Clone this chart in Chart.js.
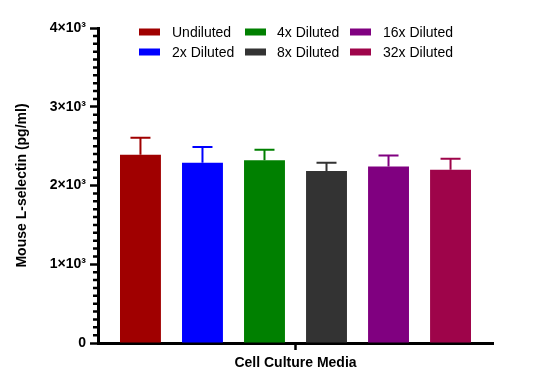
<!DOCTYPE html>
<html>
<head>
<meta charset="utf-8">
<script src="https://cdn.jsdelivr.net/npm/chart.js@4"></script>
<style>
  html, body { margin: 0; padding: 0; background: #fff; }
  #wrap { width: 538px; height: 389px; }
</style>
</head>
<body>
<div id="wrap"><canvas id="grafico"></canvas></div>
<script>
// Dados
const categorias = ["Cell Culture Media"];
const series = ["Undiluted", "2x Diluted", "4x Diluted", "8x Diluted", "16x Diluted", "32x Diluted"];
const medias = [2390, 2290, 2320, 2185, 2240, 2200];
const erros = [215, 200, 135, 105, 140, 140];
const cores = ["#a00000", "#0000ff", "#008000", "#333333", "#800080", "#9e044a"];
const yTicks = [0, 1000, 2000, 3000, 4000];
const yLabels = ["0", "1×10³", "2×10³", "3×10³", "4×10³"];

const fonte = "Arial, 'Liberation Sans', sans-serif";

// barras de erro (só a parte de cima)
const barrasErro = {
    id: "barrasErro",
    afterDatasetsDraw(chart) {
        const ctx = chart.ctx;
        const y = chart.scales.y;
        chart.data.datasets.forEach((ds, i) => {
            const bar = chart.getDatasetMeta(i).data[0];
            const topo = y.getPixelForValue(ds.data[0] + ds.erro);
            ctx.save();
            ctx.strokeStyle = ds.backgroundColor;
            ctx.lineWidth = 2;
            ctx.beginPath();
            ctx.moveTo(bar.x, bar.y);
            ctx.lineTo(bar.x, topo);
            ctx.moveTo(bar.x - 10, topo);
            ctx.lineTo(bar.x + 10, topo);
            ctx.stroke();
            ctx.restore();
        });
    }
};

// ticks menores do eixo y
const ticksMenores = {
    id: "ticksMenores",
    afterDraw(chart) {
        const ctx = chart.ctx;
        const y = chart.scales.y;
        const x0 = chart.chartArea.left;
        ctx.save();
        ctx.strokeStyle = "#000";
        ctx.lineWidth = 2.5;
        ctx.beginPath();
        for (let v = 100; v < 4000; v += 100) {
            if (v % 1000 === 0) continue;
            const py = y.getPixelForValue(v);
            ctx.moveTo(x0 - 5, py);
            ctx.lineTo(x0, py);
        }
        ctx.stroke();
        ctx.restore();
    }
};

// legenda em 3 colunas x 2 linhas
const legenda = {
    id: "legenda",
    afterDraw(chart) {
        const ctx = chart.ctx;
        const colBox = [139, 245, 350];
        const colTxt = [172, 277, 383];
        const linhas = [32, 52];
        ctx.save();
        ctx.font = "14px " + fonte;
        ctx.textBaseline = "middle";
        ctx.fillStyle = "#000";
        chart.data.datasets.forEach((ds, i) => {
            const c = Math.floor(i / 2), r = i % 2;
            ctx.fillStyle = ds.backgroundColor;
            ctx.fillRect(colBox[c], linhas[r] - 3.5, 21, 7);
            ctx.fillStyle = "#000";
            ctx.fillText(ds.label, colTxt[c], linhas[r] + 1);
        });
        ctx.restore();
    }
};

const datasets = series.map((nome, i) => ({
    label: nome,
    data: [medias[i]],
    erro: erros[i],
    backgroundColor: cores[i],
    borderWidth: 0
}));

new Chart(document.getElementById("grafico"), {
    type: "bar",
    data: { labels: categorias, datasets: datasets },
    options: {
        responsive: true,
        maintainAspectRatio: false,
        animation: false,
        categoryPercentage: 0.942,
        barPercentage: 0.66,
        layout: { padding: { top: 28, right: 45, bottom: 0, left: 0 } },
        plugins: {
            legend: { display: false },
            tooltip: { enabled: false }
        },
        scales: {
            x: {
                afterFit: s => { s.height = 46; },
                border: { color: "#000", width: 3 },
                grid: { drawOnChartArea: false, offset: false, tickLength: 7, tickWidth: 2.5, tickColor: "#000" },
                ticks: { color: "#000", padding: 5, font: { family: fonte, size: 14, weight: "bold" } }
            },
            y: {
                min: 0,
                max: 4000,
                afterFit: s => { s.width = 98; },
                afterBuildTicks: s => { s.ticks = yTicks.map(v => ({ value: v })); },
                border: { color: "#000", width: 3 },
                grid: { drawOnChartArea: false, tickLength: 8, tickWidth: 2.5, tickColor: "#000" },
                ticks: {
                    color: "#000",
                    padding: 4,
                    font: { family: fonte, size: 14, weight: "bold" },
                    callback: v => yLabels[yTicks.indexOf(v)]
                },
                title: {
                    display: true,
                    text: "Mouse L-selectin (pg/ml)",
                    color: "#000",
                    padding: { top: 14, bottom: 4 },
                    font: { family: fonte, size: 14, weight: "bold" }
                }
            }
        }
    },
    plugins: [barrasErro, ticksMenores, legenda]
});
</script>
</body>
</html>
